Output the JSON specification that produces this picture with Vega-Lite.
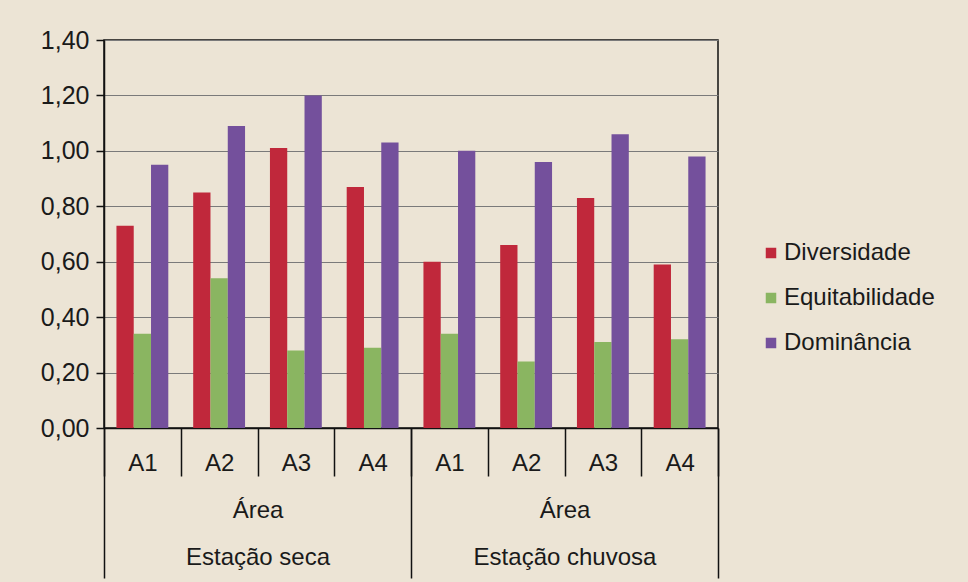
{
  "$schema": "https://vega.github.io/schema/vega-lite/v6.json",
  "autosize": "none",
  "width": 614,
  "height": 388,
  "padding": {"left": 104, "top": 40, "right": 250, "bottom": 154},
  "background": "#ece4d5",
  "config": {
    "font": "Liberation Sans",
    "view": {"stroke": "#111111", "strokeWidth": 1.5},
    "axis": {"labelColor": "#1a1a1a", "labelFont": "Liberation Sans"},
    "legend": {"labelFont": "Liberation Sans"}
  },
  "data": {
    "values": [
      {"season": "Estação seca", "area": "A1", "key": "Estação seca|A1", "metric": "Diversidade", "value": 0.73},
      {"season": "Estação seca", "area": "A1", "key": "Estação seca|A1", "metric": "Equitabilidade", "value": 0.34},
      {"season": "Estação seca", "area": "A1", "key": "Estação seca|A1", "metric": "Dominância", "value": 0.95},
      {"season": "Estação seca", "area": "A2", "key": "Estação seca|A2", "metric": "Diversidade", "value": 0.85},
      {"season": "Estação seca", "area": "A2", "key": "Estação seca|A2", "metric": "Equitabilidade", "value": 0.54},
      {"season": "Estação seca", "area": "A2", "key": "Estação seca|A2", "metric": "Dominância", "value": 1.09},
      {"season": "Estação seca", "area": "A3", "key": "Estação seca|A3", "metric": "Diversidade", "value": 1.01},
      {"season": "Estação seca", "area": "A3", "key": "Estação seca|A3", "metric": "Equitabilidade", "value": 0.28},
      {"season": "Estação seca", "area": "A3", "key": "Estação seca|A3", "metric": "Dominância", "value": 1.20},
      {"season": "Estação seca", "area": "A4", "key": "Estação seca|A4", "metric": "Diversidade", "value": 0.87},
      {"season": "Estação seca", "area": "A4", "key": "Estação seca|A4", "metric": "Equitabilidade", "value": 0.29},
      {"season": "Estação seca", "area": "A4", "key": "Estação seca|A4", "metric": "Dominância", "value": 1.03},
      {"season": "Estação chuvosa", "area": "A1", "key": "Estação chuvosa|A1", "metric": "Diversidade", "value": 0.60},
      {"season": "Estação chuvosa", "area": "A1", "key": "Estação chuvosa|A1", "metric": "Equitabilidade", "value": 0.34},
      {"season": "Estação chuvosa", "area": "A1", "key": "Estação chuvosa|A1", "metric": "Dominância", "value": 1.00},
      {"season": "Estação chuvosa", "area": "A2", "key": "Estação chuvosa|A2", "metric": "Diversidade", "value": 0.66},
      {"season": "Estação chuvosa", "area": "A2", "key": "Estação chuvosa|A2", "metric": "Equitabilidade", "value": 0.24},
      {"season": "Estação chuvosa", "area": "A2", "key": "Estação chuvosa|A2", "metric": "Dominância", "value": 0.96},
      {"season": "Estação chuvosa", "area": "A3", "key": "Estação chuvosa|A3", "metric": "Diversidade", "value": 0.83},
      {"season": "Estação chuvosa", "area": "A3", "key": "Estação chuvosa|A3", "metric": "Equitabilidade", "value": 0.31},
      {"season": "Estação chuvosa", "area": "A3", "key": "Estação chuvosa|A3", "metric": "Dominância", "value": 1.06},
      {"season": "Estação chuvosa", "area": "A4", "key": "Estação chuvosa|A4", "metric": "Diversidade", "value": 0.59},
      {"season": "Estação chuvosa", "area": "A4", "key": "Estação chuvosa|A4", "metric": "Equitabilidade", "value": 0.32},
      {"season": "Estação chuvosa", "area": "A4", "key": "Estação chuvosa|A4", "metric": "Dominância", "value": 0.98}
    ]
  },
  "encoding": {
    "y": {
      "field": "value",
      "type": "quantitative",
      "scale": {"domain": [0, 1.4], "nice": false},
      "axis": {
        "title": null,
        "values": [0, 0.2, 0.4, 0.6, 0.8, 1.0, 1.2, 1.4],
        "labelExpr": "replace(format(datum.value, '.2f'), '.', ',')",
        "labelFontSize": 25,
        "labelPadding": 7,
        "tickSize": 8,
        "tickColor": "#111111",
        "tickWidth": 1.5,
        "domainColor": "#111111",
        "domainWidth": 1.5,
        "grid": true,
        "gridColor": "#7a7a7a",
        "gridWidth": 1.2
      }
    }
  },
  "layer": [
    {
      "mark": {"type": "bar"},
      "encoding": {
        "x": {
          "field": "key",
          "type": "nominal",
          "sort": null,
          "scale": {"paddingInner": 0, "paddingOuter": 0},
          "axis": {
            "orient": "bottom",
            "title": null,
            "labelAngle": 0,
            "labelExpr": "split(datum.value, '|')[1]",
            "labelFontSize": 24,
            "tickBand": "extent",
            "tickSize": 48,
            "tickColor": "#111111",
            "tickWidth": 1.5,
            "labelPadding": -25,
            "domainColor": "#111111",
            "domainWidth": 1.5
          }
        },
        "xOffset": {
          "field": "metric",
          "type": "nominal",
          "sort": ["Diversidade", "Equitabilidade", "Dominância"],
          "scale": {"paddingInner": 0, "paddingOuter": 0.72}
        },
        "color": {
          "field": "metric",
          "type": "nominal",
          "sort": ["Diversidade", "Equitabilidade", "Dominância"],
          "scale": {
            "domain": ["Diversidade", "Equitabilidade", "Dominância"],
            "range": ["#c0283b", "#8ab561", "#74509c"]
          },
          "legend": {
            "title": null,
            "orient": "none",
            "legendX": 655,
            "legendY": 201,
            "symbolType": "square",
            "symbolSize": 110,
            "symbolStrokeWidth": 0,
            "labelFontSize": 24,
            "labelColor": "#1a1a1a",
            "labelOffset": 1,
            "labelLimit": 300,
            "rowPadding": 21
          }
        }
      }
    },
    {
      "mark": {"type": "bar", "opacity": 0},
      "encoding": {
        "x": {
          "field": "season",
          "type": "nominal",
          "sort": null,
          "scale": {"paddingInner": 0, "paddingOuter": 0},
          "axis": {
            "orient": "bottom",
            "title": null,
            "labelAngle": 0,
            "labelExpr": "isValid(datum.value) && datum.value != '' ? ['Área', datum.value] : ''",
            "labelFontSize": 24,
            "labelLineHeight": 47,
            "labelLimit": 400,
            "tickBand": "extent",
            "tickSize": 150,
            "tickColor": "#111111",
            "tickWidth": 1.5,
            "labelPadding": -80,
            "domain": false
          }
        }
      }
    }
  ],
  "resolve": {"scale": {"x": "independent"}}
}
